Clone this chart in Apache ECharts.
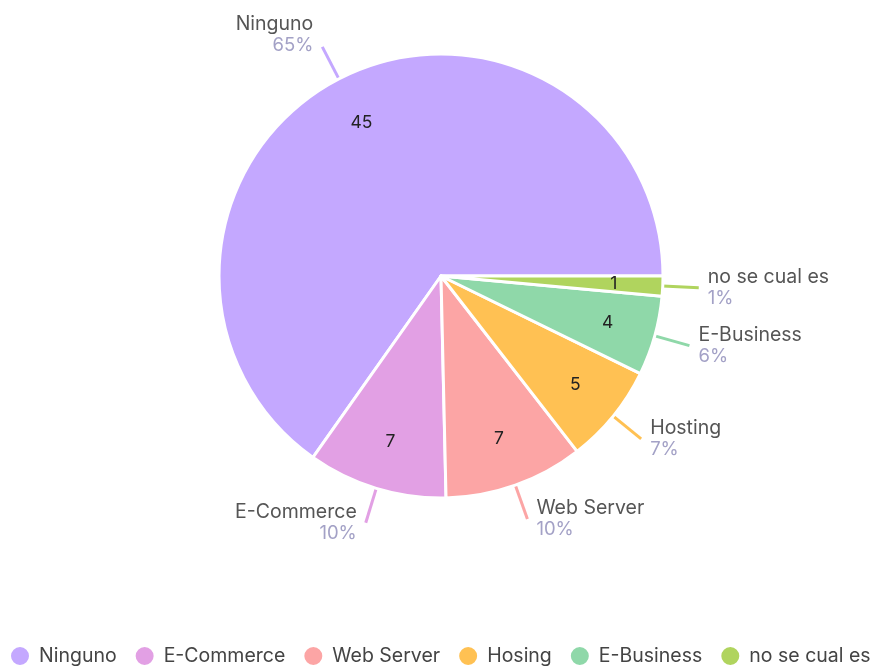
<!DOCTYPE html>
<html>
<head>
<meta charset="utf-8">
<script src="https://cdn.jsdelivr.net/npm/echarts@6/dist/echarts.min.js"></script>
<style>
  html, body { margin: 0; padding: 0; background: #fff; }
  #chart { width: 873px; height: 666px; }
</style>
</head>
<body>
<div id="chart"></div>
<script>
// legend names (the legend says "Hosing", the slice label says "Hosting")
const categories = ["Ninguno", "E-Commerce", "Web Server", "Hosing", "E-Business", "no se cual es"];
const labelNames = ["Ninguno", "E-Commerce", "Web Server", "Hosting", "E-Business", "no se cual es"];
const values = [45, 7, 7, 5, 4, 1];
const colors = ["#c4a8ff", "#e2a0e4", "#fca5a5", "#ffc153", "#8fd8a9", "#b0d45e"];

const total = values.reduce((a, b) => a + b, 0);

let pieData = categories.map((name, i) => {
  let item = { name: name, value: values[i] };
  // Ninguno label sits a bit higher than its line end
  if (i === 0) item.label = { padding: [0, 4, 24, 4] };
  return item;
});

let chart = echarts.init(document.getElementById("chart"));
let option = {
  color: colors,
  animation: false,
  legend: {
    top: 645,
    left: 9,
    width: 890,
    padding: 0,
    icon: "circle",
    itemWidth: 20,
    itemHeight: 20,
    itemGap: 17,
    textStyle: {
      fontFamily: "Inter",
      fontSize: 19.5,
      color: "#444",
      padding: [0, 0, 0, 4],
    },
    data: categories,
  },
  series: [
    {
      name: "main",
      type: "pie",
      center: [441, 276],
      radius: [0, 222],
      startAngle: 0,
      clockwise: false,
      itemStyle: {
        borderColor: "#fff",
        borderWidth: 3,
      },
      label: {
        show: true,
        position: "outside",
        padding: [0, 4, 0, 4],
        formatter: function (p) {
          let pct = Math.round((p.value / total) * 100);
          return "{n|" + labelNames[p.dataIndex] + "}\n{p|" + pct + "%}";
        },
        rich: {
          n: {
            fontFamily: "Inter",
            fontSize: 19.5,
            color: "#555",
            lineHeight: 21,
          },
          p: {
            fontFamily: "Inter",
            fontSize: 18.5,
            color: "#a3a1c6",
            lineHeight: 21,
          },
        },
      },
      labelLine: {
        show: true,
        length: 36,
        length2: 0,
        lineStyle: { width: 3 },
      },
      emphasis: { scale: false },
      data: pieData,
    },
    {
      name: "values",
      type: "pie",
      center: [441, 276],
      radius: [118, 222],
      startAngle: 0,
      clockwise: false,
      silent: true,
      itemStyle: {
        color: "transparent",
        borderWidth: 0,
      },
      label: {
        show: true,
        position: "inside",
        formatter: "{c}",
        fontFamily: "Inter",
        fontSize: 17.5,
        color: "#222",
      },
      labelLine: { show: false },
      emphasis: { disabled: true },
      data: categories.map((name, i) => ({ name: name, value: values[i] })),
    },
  ],
};
option && chart.setOption(option);
</script>
</body>
</html>
